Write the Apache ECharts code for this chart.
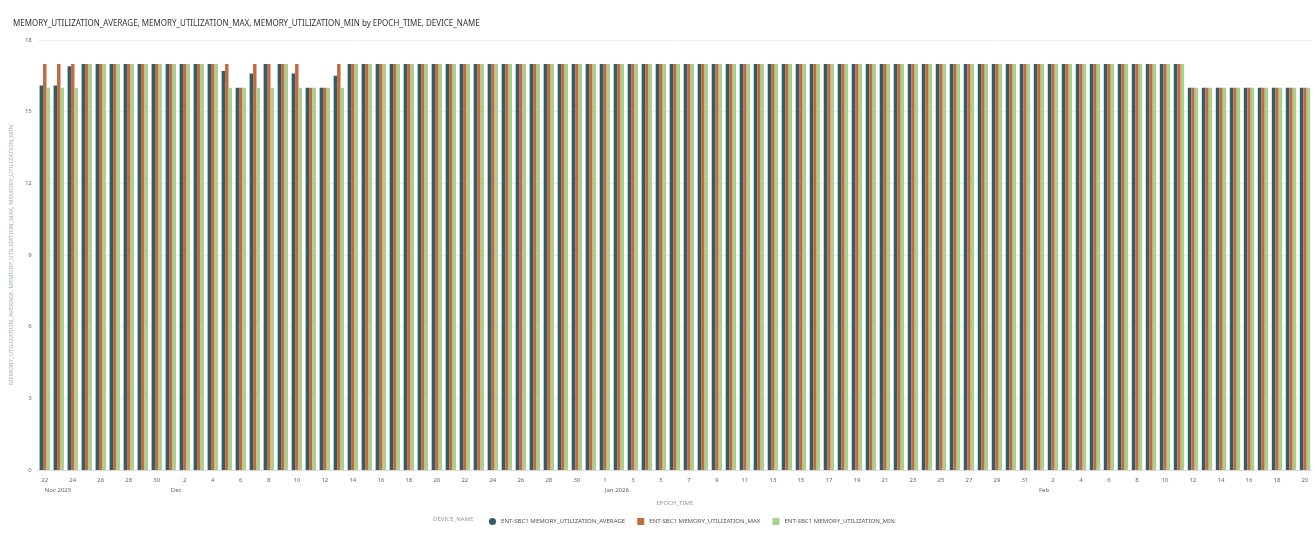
<!DOCTYPE html>
<html>
<head>
<meta charset="utf-8">
<script src="https://cdn.jsdelivr.net/npm/echarts@6/dist/echarts.min.js"></script>
<style>html,body{margin:0;padding:0;background:#fff;}#c{width:1315px;height:544px;}</style>
</head>
<body>
<div id="c"></div>
<script>
const titleText = 'MEMORY_UTILIZATION_AVERAGE, MEMORY_UTILIZATION_MAX, MEMORY_UTILIZATION_MIN by EPOCH_TIME, DEVICE_NAME';
const yAxisName = 'MEMORY_UTILIZATION_AVERAGE, MEMORY_UTILIZATION_MAX, MEMORY_UTILIZATION_MIN';
const xAxisName = 'EPOCH_TIME';
const legendTitle = 'DEVICE_NAME';
const seriesNames = ['ENT-SBC1 MEMORY_UTILIZATION_AVERAGE', 'ENT-SBC1 MEMORY_UTILIZATION_MAX', 'ENT-SBC1 MEMORY_UTILIZATION_MIN'];

const categories = [
'2025-11-22','2025-11-23','2025-11-24','2025-11-25','2025-11-26','2025-11-27','2025-11-28','2025-11-29','2025-11-30','2025-12-01',
'2025-12-02','2025-12-03','2025-12-04','2025-12-05','2025-12-06','2025-12-07','2025-12-08','2025-12-09','2025-12-10','2025-12-11',
'2025-12-12','2025-12-13','2025-12-14','2025-12-15','2025-12-16','2025-12-17','2025-12-18','2025-12-19','2025-12-20','2025-12-21',
'2025-12-22','2025-12-23','2025-12-24','2025-12-25','2025-12-26','2025-12-27','2025-12-28','2025-12-29','2025-12-30','2025-12-31',
'2026-01-01','2026-01-02','2026-01-03','2026-01-04','2026-01-05','2026-01-06','2026-01-07','2026-01-08','2026-01-09','2026-01-10',
'2026-01-11','2026-01-12','2026-01-13','2026-01-14','2026-01-15','2026-01-16','2026-01-17','2026-01-18','2026-01-19','2026-01-20',
'2026-01-21','2026-01-22','2026-01-23','2026-01-24','2026-01-25','2026-01-26','2026-01-27','2026-01-28','2026-01-29','2026-01-30',
'2026-01-31','2026-02-01','2026-02-02','2026-02-03','2026-02-04','2026-02-05','2026-02-06','2026-02-07','2026-02-08','2026-02-09',
'2026-02-10','2026-02-11','2026-02-12','2026-02-13','2026-02-14','2026-02-15','2026-02-16','2026-02-17','2026-02-18','2026-02-19',
'2026-02-20'
];

const monthLabels = {'2025-11-22':'Nov 2025','2025-12-01':'Dec','2026-01-01':'Jan 2026','2026-02-01':'Feb'};

const avgValues = [
16.1,16.1,16.9,17,17,17,17,17,17,17,
17,17,17,16.7,16,16.6,17,17,16.6,16,
16,16.5,17,17,17,17,17,17,17,17,
17,17,17,17,17,17,17,17,17,17,
17,17,17,17,17,17,17,17,17,17,
17,17,17,17,17,17,17,17,17,17,
17,17,17,17,17,17,17,17,17,17,
17,17,17,17,17,17,17,17,17,17,
17,17,16,16,16,16,16,16,16,16,
16
];
const maxValues = [
17,17,17,17,17,17,17,17,17,17,
17,17,17,17,16,17,17,17,17,16,
16,17,17,17,17,17,17,17,17,17,
17,17,17,17,17,17,17,17,17,17,
17,17,17,17,17,17,17,17,17,17,
17,17,17,17,17,17,17,17,17,17,
17,17,17,17,17,17,17,17,17,17,
17,17,17,17,17,17,17,17,17,17,
17,17,16,16,16,16,16,16,16,16,
16
];
const minValues = [
16,16,16,17,17,17,17,17,17,17,
17,17,17,16,16,16,16,17,16,16,
16,16,17,17,17,17,17,17,17,17,
17,17,17,17,17,17,17,17,17,17,
17,17,17,17,17,17,17,17,17,17,
17,17,17,17,17,17,17,17,17,17,
17,17,17,17,17,17,17,17,17,17,
17,17,17,17,17,17,17,17,17,17,
17,17,16,16,16,16,16,16,16,16,
16
];

const colors = ['#2e5f6a', '#c46a3f', '#a9d18e'];
const FONT = 'Noto Sans';

const chart = echarts.init(document.getElementById('c'), null, {renderer: 'canvas'});
chart.setOption({
  animation: false,
  color: colors,
  textStyle: {fontFamily: FONT},
  title: {
    text: titleText, left: 8, top: 15,
    textStyle: {fontSize: 8, fontWeight: 'normal', color: '#333', fontFamily: FONT}
  },
  graphic: [{
    type: 'text', left: 433, top: 516,
    style: {text: legendTitle, fontSize: 6, fill: '#8aa0b0', fontFamily: FONT}
  }],
  legend: {
    left: 484, top: 513, itemWidth: 7, itemHeight: 7, itemGap: 12,
    textStyle: {fontSize: 6.1, color: '#555', fontFamily: FONT},
    data: [
      {name: seriesNames[0], icon: 'circle'},
      {name: seriesNames[1], icon: 'rect'},
      {name: seriesNames[2], icon: 'rect'}
    ]
  },
  grid: {left: 36, right: 3, top: 40, bottom: 74, containLabel: false},
  xAxis: [{
    type: 'category', data: categories,
    name: xAxisName, nameLocation: 'middle', nameGap: 30,
    nameTextStyle: {fontSize: 6, color: '#999', fontFamily: FONT},
    axisLine: {show: true, lineStyle: {color: '#ddd'}},
    axisTick: {show: false},
    axisLabel: {
      interval: 0, fontSize: 6, color: '#666', margin: 7, fontFamily: FONT,
      formatter: function (v, i) { return i % 2 === 0 ? String(parseInt(v.slice(8), 10)) : ''; }
    }
  }, {
    type: 'category', data: categories, position: 'bottom', gridIndex: 0,
    axisLine: {show: false}, axisTick: {show: false}, splitLine: {show: false},
    axisLabel: {
      interval: 0, fontSize: 6, color: '#666', margin: 17, align: 'left', fontFamily: FONT,
      formatter: function (v) { return monthLabels[v] || ''; }
    }
  }],
  yAxis: {
    type: 'value', min: 0, max: 18, interval: 3,
    name: yAxisName, nameLocation: 'middle', nameGap: 20, nameRotate: 90,
    nameTextStyle: {fontSize: 6, color: '#9ab0bd', fontFamily: FONT},
    axisLine: {show: false}, axisTick: {show: false},
    axisLabel: {fontSize: 6, color: '#666', margin: 6, fontFamily: FONT},
    splitLine: {show: true, lineStyle: {color: '#f0f0f0'}}
  },
  series: [
    {name: seriesNames[0], type: 'bar', data: avgValues, barGap: '0%', barCategoryGap: '26%'},
    {name: seriesNames[1], type: 'bar', data: maxValues, barGap: '0%', barCategoryGap: '26%'},
    {name: seriesNames[2], type: 'bar', data: minValues, barGap: '0%', barCategoryGap: '26%'}
  ]
});
</script>
</body>
</html>
